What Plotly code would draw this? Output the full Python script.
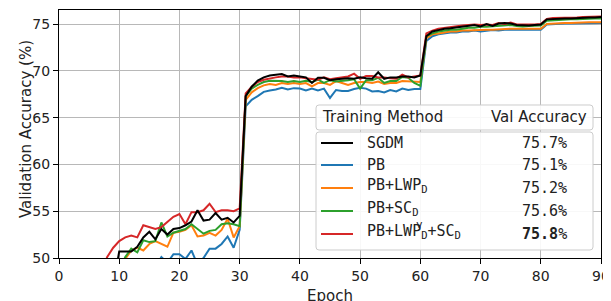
import plotly.graph_objects as go

epochs = list(range(1, 91))

sgdm = [22, 30, 36, 40, 43, 45, 46.5, 45.5, 47.0, 50.7,
        50.7, 50.7, 51.2, 52.2, 52.8, 52.0, 53.1, 52.5, 53.1, 53.2,
        53.5, 53.9, 55.1, 54.0, 54.1, 54.8, 54.1, 54.3, 53.8, 54.5,
        67.3, 68.3, 68.95, 69.3, 69.5, 69.6, 69.65, 69.4, 69.5, 69.4,
        69.3, 68.7, 69.25, 69.25, 69.0, 69.1, 69.15, 69.2, 69.15, 69.3,
        69.2, 69.15, 69.85, 69.15, 69.3, 69.3, 69.4, 69.4, 69.3, 69.5,
        73.7, 74.2, 74.35, 74.5, 74.55, 74.65, 74.7, 74.8, 74.9, 74.75,
        75.0, 74.8, 75.05, 75.1, 75.05, 74.9, 74.85, 74.85, 74.9, 74.95,
        75.5, 75.55, 75.6, 75.6, 75.6, 75.65, 75.65, 75.7, 75.7, 75.75]

pb = [15, 22, 28, 32, 35, 38, 40, 41.5, 42.5, 43.5,
      44.5, 45.5, 46.5, 47.5, 48.2, 49.0, 50.1, 49.5, 50.4, 50.4,
      49.9, 50.8, 49.3, 50.0, 51.0, 51.0, 51.5, 52.3, 51.1, 53.0,
      66.2, 66.9, 67.3, 67.75, 67.9, 68.0, 68.2, 68.0, 68.15, 68.1,
      67.9, 68.1, 67.9, 68.1, 67.1, 67.95, 67.85, 67.85, 68.05, 68.2,
      68.1, 67.8, 67.85, 67.7, 67.95, 67.8, 68.1, 67.95, 68.05, 68.05,
      73.2, 73.7, 73.9, 74.0, 74.1, 74.1, 74.2, 74.2, 74.3, 74.2,
      74.3, 74.35, 74.3, 74.4, 74.4, 74.4, 74.35, 74.4, 74.35, 74.4,
      74.95, 75.0, 75.0, 75.05, 75.05, 75.05, 75.1, 75.1, 75.1, 75.1]

pb_lwp = [18, 26, 32, 36, 39, 41.5, 43.5, 45.5, 47.0, 48.6,
          49.9, 50.8, 51.1, 50.8, 51.5, 51.8, 51.5, 51.2, 52.7, 52.8,
          53.0, 53.5, 52.3, 52.4, 52.7, 52.4, 53.0, 54.2, 52.2, 53.4,
          66.9, 67.7, 68.15, 68.45, 68.6, 68.5, 68.7, 68.6, 68.7, 68.6,
          68.7, 68.35, 68.7, 68.7, 68.5, 68.9, 68.7, 68.5, 68.7, 68.8,
          68.8, 68.7, 68.85, 68.6, 68.7, 68.7, 68.9, 68.85, 68.8, 68.8,
          73.5, 73.9, 74.0, 74.1, 74.2, 74.2, 74.3, 74.3, 74.35, 74.4,
          74.4, 74.4, 74.45, 74.45, 74.5, 74.5, 74.5, 74.5, 74.45, 74.5,
          75.0, 75.05, 75.1, 75.1, 75.1, 75.15, 75.15, 75.2, 75.2, 75.2]

pb_sc = [20, 28, 34, 38, 41, 43, 45, 46.5, 47.5, 48.5,
         50.1, 51.0, 50.6, 51.9, 51.7, 51.8, 53.8, 52.3, 52.7, 52.9,
         53.1, 53.6, 53.1, 52.6, 52.9, 53.0, 53.6, 53.7, 53.6, 53.4,
         67.3, 68.1, 68.5, 68.8, 68.95, 68.95, 68.9, 68.8, 68.9, 68.8,
         68.95, 68.8, 69.05, 68.7, 69.0, 68.85, 68.9, 69.0, 69.1, 68.1,
         69.0, 69.0, 69.25, 68.7, 68.9, 68.9, 69.35, 69.25, 68.7, 68.4,
         73.7, 74.0, 74.2, 74.3, 74.4, 74.4, 74.5, 74.6, 74.6, 74.7,
         74.7, 74.75, 74.8, 74.8, 74.9, 74.8, 74.75, 74.8, 74.8, 74.85,
         75.35, 75.4, 75.45, 75.45, 75.5, 75.5, 75.55, 75.55, 75.6, 75.6]

pb_lwpv_sc = [25, 33, 38, 41, 44, 46, 48.5, 50.1, 51.1, 51.8,
              52.2, 52.4, 52.2, 53.5, 53.3, 53.1, 53.3, 53.9, 54.4, 54.7,
              53.6, 54.9, 54.9, 55.1, 55.8, 54.9, 55.1, 55.1, 55.0, 55.3,
              67.6, 68.3, 68.8, 69.05, 69.2, 69.3, 69.4, 69.4, 69.3, 69.3,
              69.2, 69.15, 69.05, 69.3, 69.1, 69.2, 69.3, 69.4, 69.7, 69.15,
              69.45, 69.45, 69.3, 69.3, 69.2, 69.15, 69.6, 69.3, 69.4, 69.5,
              74.0, 74.3, 74.5, 74.6, 74.7, 74.8, 74.85, 74.9, 74.95, 74.9,
              74.95, 74.9, 75.1, 75.0, 75.15, 74.95, 74.95, 74.9, 74.95, 75.0,
              75.55, 75.65, 75.65, 75.7, 75.7, 75.7, 75.75, 75.75, 75.8, 75.8]

series_names = ["PB", "PB+LWP_D", "PB+SC_D", "PB+LWPv_D+SC_D", "SGDM"]
series_values = [pb, pb_lwp, pb_sc, pb_lwpv_sc, sgdm]
series_colors = ["#1f77b4", "#ff7f0e", "#2ca02c", "#d62728", "#000000"]

legend_labels = ["SGDM", "PB", "PB+LWP<sub>D</sub>", "PB+SC<sub>D</sub>",
                 "PB+LWP<sub>D</sub>+SC<sub>D</sub>"]
legend_colors = ["#000000", "#1f77b4", "#ff7f0e", "#2ca02c", "#d62728"]
legend_acc = ["75.7%", "75.1%", "75.2%", "75.6%", "<b>75.8</b>%"]

x_ticks = [0, 10, 20, 30, 40, 50, 60, 70, 80, 90]
y_ticks = [50, 55, 60, 65, 70, 75]

PAGE_W, PAGE_H = 611, 301
OFF = 8  # default page body margin
W, H = PAGE_W - OFF, PAGE_H - OFF
# plot area in page pixel coordinates
L, R, T, B = 59, 601, 10, 258


def px(x):
    return (x - L) / (R - L)


def py(y):
    return (B - y) / (B - T)


fig = go.Figure()
for name, vals, col in zip(series_names, series_values, series_colors):
    fig.add_trace(go.Scatter(x=epochs, y=vals, mode="lines", name=name,
                             line=dict(color=col, width=2), showlegend=False))


def rounded_box(x0, y0, x1, y1, r=3):
    def P(x, y):
        return f"{px(x):.5f},{py(y):.5f}"
    return (f"M {P(x0 + r, y0)} L {P(x1 - r, y0)} Q {P(x1, y0)} {P(x1, y0 + r)} "
            f"L {P(x1, y1 - r)} Q {P(x1, y1)} {P(x1 - r, y1)} "
            f"L {P(x0 + r, y1)} Q {P(x0, y1)} {P(x0, y1 - r)} "
            f"L {P(x0, y0 + r)} Q {P(x0, y0)} {P(x0 + r, y0)} Z")


shapes = []
for (y0, y1) in [(105, 130), (132, 250)]:
    shapes.append(dict(type="path", xref="paper", yref="paper",
                       path=rounded_box(316, y0, 593, y1),
                       fillcolor="rgba(255,255,255,0.9)",
                       line=dict(color="#cccccc", width=1), layer="above"))

row_y = [143, 165, 188, 211, 234]
annotations = []
annotations.append(dict(xref="paper", yref="paper", x=px(320), y=py(117),
                        xanchor="left", yanchor="middle", showarrow=False,
                        text="Training Method",
                        font=dict(family="DejaVu Sans", size=15, color="#222")))
annotations.append(dict(xref="paper", yref="paper", x=px(589), y=py(117),
                        xanchor="right", yanchor="middle", showarrow=False,
                        text="Val Accuracy",
                        font=dict(family="DejaVu Sans", size=15, color="#222")))
for lab, col, acc, yy in zip(legend_labels, legend_colors, legend_acc, row_y):
    shapes.append(dict(type="line", xref="paper", yref="paper",
                       x0=px(321), x1=px(353), y0=py(yy), y1=py(yy),
                       line=dict(color=col, width=2), layer="above"))
    sub = "<sub>" in lab
    annotations.append(dict(xref="paper", yref="paper", x=px(365),
                            y=py(yy - (2.5 if sub else 0)),
                            xanchor="left", yanchor="middle", showarrow=False,
                            text=lab,
                            font=dict(family="DejaVu Sans Mono", size=15, color="#222")))
    annotations.append(dict(xref="paper", yref="paper", x=px(569), y=py(yy),
                            xanchor="right", yanchor="middle", showarrow=False,
                            text=acc,
                            font=dict(family="DejaVu Sans Mono", size=15, color="#222")))
# superscript "v" stacked above the subscript D
annotations.append(dict(xref="paper", yref="paper", x=px(419), y=py(224.5),
                        xanchor="center", yanchor="middle", showarrow=False,
                        text="v",
                        font=dict(family="DejaVu Sans Mono", size=11, color="#222")))
# axis titles
annotations.append(dict(xref="paper", yref="paper", x=px(330), y=py(296),
                        xanchor="center", yanchor="middle", showarrow=False,
                        text="Epoch",
                        font=dict(family="DejaVu Sans", size=15, color="#222")))
annotations.append(dict(xref="paper", yref="paper", x=px(26), y=py(129),
                        xanchor="center", yanchor="middle", showarrow=False,
                        text="Validation Accuracy (%)", textangle=-90,
                        font=dict(family="DejaVu Sans", size=15, color="#222")))

fig.update_layout(
    width=W, height=H,
    margin=dict(l=L - OFF, r=PAGE_W - R, t=T - OFF, b=PAGE_H - B),
    paper_bgcolor="white", plot_bgcolor="white",
    shapes=shapes, annotations=annotations,
    font=dict(family="DejaVu Sans", size=14, color="#222"),
)
fig.update_xaxes(range=[0, 90], tickvals=x_ticks, ticks="outside", ticklen=5,
                 tickcolor="black", showline=True, mirror=True, linecolor="black",
                 linewidth=1.3, showgrid=True, gridcolor="#b8b8b8", gridwidth=1.2,
                 zeroline=False, tickfont=dict(size=14), automargin=False)
fig.update_yaxes(range=[50, 76.5], tickvals=y_ticks, ticks="outside", ticklen=5,
                 tickcolor="black", showline=True, mirror=True, linecolor="black",
                 linewidth=1.3, showgrid=True, gridcolor="#b8b8b8", gridwidth=1.2,
                 zeroline=False, tickfont=dict(size=14), automargin=False)

fig.write_html("out.html")
